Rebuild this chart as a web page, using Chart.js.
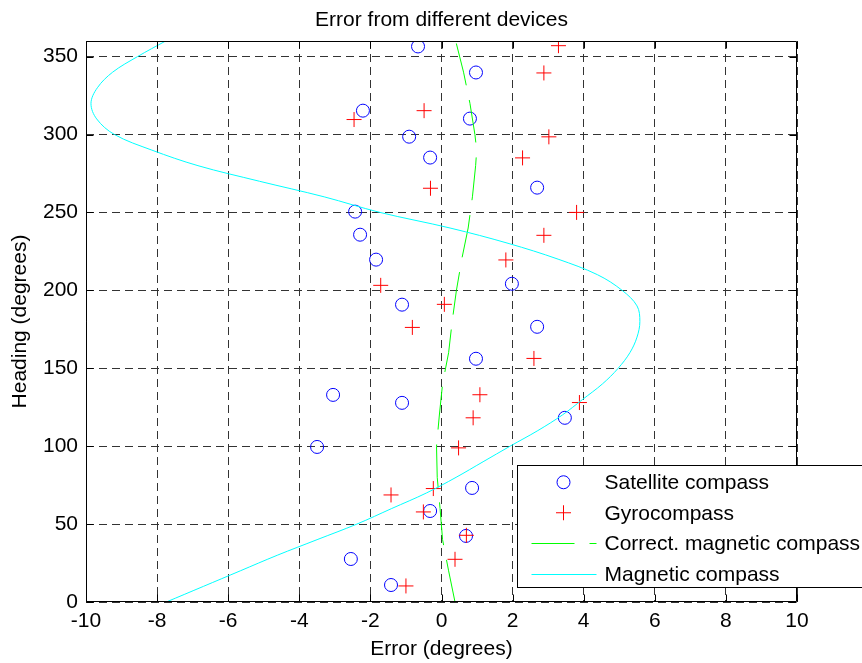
<!DOCTYPE html>
<html>
<head>
<meta charset="utf-8">
<script src="https://cdn.jsdelivr.net/npm/chart.js@4/dist/chart.umd.min.js"></script>
<style>
  html, body { margin: 0; padding: 0; background: #fff; }
  #wrap { width: 862px; height: 663px; position: relative; overflow: hidden; }
</style>
</head>
<body>
<div id="wrap"><canvas id="c" width="862" height="663"></canvas></div>
<script>
// ---------- Text ----------
const chartTitle = "Error from different devices";
const xAxisTitle = "Error (degrees)";
const yAxisTitle = "Heading (degrees)";
const seriesNames = ["Satellite compass", "Gyrocompass", "Correct. magnetic compass", "Magnetic compass"];

// ---------- Axis ranges / ticks ----------
const xMin = -10, xMax = 10, xStep = 2;
const yMin = 0, yMax = 360, yStep = 50;

// ---------- Data (heading in degrees, error in degrees) ----------
const satHeading = [356.5, 339.8, 315.3, 310.2, 298.6, 285.2, 265.9, 250.5, 235.7, 219.7, 204.2, 190.8, 176.6, 156.1, 132.9, 127.8, 118.2, 99.5, 73.2, 58.4, 42.4, 27.6, 10.9];
const satError   = [-0.66, 0.97, -2.21, 0.80, -0.91, -0.32, 2.69, -2.43, -2.29, -1.84, 1.98, -1.11, 2.69, 0.97, -3.05, -1.11, 3.47, -3.50, 0.86, -0.32, 0.69, -2.55, -1.42];

const gyroHeading = [357.0, 339.5, 315.3, 309.6, 298.5, 285.0, 265.5, 250.0, 235.3, 219.5, 203.2, 191.0, 176.2, 156.3, 133.0, 128.0, 118.2, 98.9, 72.8, 68.7, 57.8, 42.8, 27.4, 10.3];
const gyroError   = [3.29, 2.88, -0.49, -2.46, 3.02, 2.28, -0.31, 3.80, 2.88, 1.81, -1.71, 0.08, -0.82, 2.60, 1.08, 3.88, 0.89, 0.48, -0.23, -1.42, -0.51, 0.70, 0.38, -1.00];

const corrHeading = [0, 20, 40, 60, 80, 100, 120, 140, 160, 180, 200, 220, 240, 260, 280, 290, 300, 320, 340, 360];
const corrError   = [0.38, 0.20, 0.03, -0.04, -0.12, -0.14, -0.06, 0.03, 0.20, 0.30, 0.42, 0.57, 0.75, 0.87, 0.96, 0.99, 0.94, 0.80, 0.62, 0.40];

const magHeading = [0, 10, 20, 30, 40, 50, 60, 70, 80, 90, 100, 110, 120, 130, 140, 150, 160, 170, 180, 190, 200, 210, 220, 230, 240, 250, 260, 270, 280, 290, 300, 310, 320, 330, 340, 350, 360];
const magError   = [-7.74, -6.70, -5.66, -4.62, -3.50, -2.38, -1.40, -0.42, 0.41, 1.17, 1.93, 2.71, 3.40, 3.97, 4.53, 4.97, 5.30, 5.50, 5.58, 5.50, 5.08, 4.39, 3.28, 1.90, 0.24, -1.73, -3.30, -5.12, -6.85, -8.15, -9.20, -9.70, -9.86, -9.68, -9.25, -8.55, -7.76];

// ---------- Styling ----------
const FONT = "'Liberation Sans', Arial, Helvetica, sans-serif";
const FS = 21;
const toPts = (xs, ys) => xs.map((v, i) => ({ x: v, y: ys[i] }));

const frameAndTicks = {
  id: 'frameAndTicks',
  afterDatasetsDraw(chart) {
    const { ctx, chartArea: a, scales: { x, y } } = chart;
    const L = Math.round(a.left) + 0.5, R = Math.round(a.right) - 0.5;
    const T = Math.round(a.top) + 0.5, B = Math.round(a.bottom) - 0.5;
    const tl = 7;
    ctx.save();
    ctx.strokeStyle = '#000';
    ctx.lineWidth = 1;
    ctx.setLineDash([]);
    ctx.beginPath();
    ctx.rect(L, T, R - L, B - T);
    x.ticks.forEach(t => {
      const p = Math.round(x.getPixelForValue(t.value)) + 0.5;
      ctx.moveTo(p, B); ctx.lineTo(p, B - tl);
      ctx.moveTo(p, T); ctx.lineTo(p, T + tl);
    });
    y.ticks.forEach(t => {
      const p = Math.round(y.getPixelForValue(t.value)) + 0.5;
      ctx.moveTo(L, p); ctx.lineTo(L + tl, p);
      ctx.moveTo(R, p); ctx.lineTo(R - tl, p);
    });
    ctx.stroke();
    ctx.restore();
  }
};

const boxLegend = {
  id: 'boxLegend',
  afterDraw(chart) {
    const { ctx, chartArea: a } = chart;
    const left = Math.round(a.left + 431) + 0.5;
    const top = Math.round(a.top + 424) + 0.5;
    const bottom = Math.round(a.bottom - 15) + 0.5;
    const rowH = (bottom - top) / 4;
    const markX = left + 46, lineX0 = left + 14, lineX1 = left + 79, textX = left + 87;
    ctx.save();
    ctx.fillStyle = '#fff';
    ctx.fillRect(left, top, chart.width + 20 - left, bottom - top);
    ctx.strokeStyle = '#000';
    ctx.lineWidth = 1;
    ctx.strokeRect(left, top, chart.width + 20 - left, bottom - top);
    ctx.font = FS + 'px ' + FONT;
    ctx.textBaseline = 'middle';
    ctx.textAlign = 'left';
    chart.data.datasets.forEach((ds, i) => {
      const cy = top + rowH * (i + 0.5) + 1.5;
      ctx.strokeStyle = ds.borderColor;
      ctx.lineWidth = 1;
      if (ds.showLine) {
        ctx.setLineDash(ds.borderDash || []);
        ctx.beginPath();
        ctx.moveTo(lineX0, Math.round(cy) + 0.5);
        ctx.lineTo(lineX1, Math.round(cy) + 0.5);
        ctx.stroke();
        ctx.setLineDash([]);
      } else if (ds.pointStyle === 'circle') {
        ctx.beginPath();
        ctx.arc(markX, cy, ds.pointRadius, 0, Math.PI * 2);
        ctx.stroke();
      } else {
        const r = ds.pointRadius;
        ctx.beginPath();
        ctx.moveTo(markX - r, cy); ctx.lineTo(markX + r, cy);
        ctx.moveTo(markX, cy - r); ctx.lineTo(markX, cy + r);
        ctx.stroke();
      }
      ctx.fillStyle = '#000';
      ctx.fillText(ds.label, textX, cy + 1);
    });
    ctx.restore();
  }
};

const chart = new Chart(document.getElementById('c'), {
  type: 'scatter',
  data: {
    datasets: [
      { label: seriesNames[0], data: toPts(satError, satHeading), showLine: false,
        pointStyle: 'circle', pointRadius: 6.5, pointBorderWidth: 1,
        borderColor: '#0000ff', backgroundColor: 'rgba(0,0,0,0)', pointBackgroundColor: 'rgba(0,0,0,0)', order: 4 },
      { label: seriesNames[1], data: toPts(gyroError, gyroHeading), showLine: false,
        pointStyle: 'cross', pointRadius: 7.5, pointBorderWidth: 1,
        borderColor: '#ff0000', backgroundColor: '#ff0000', order: 3 },
      { label: seriesNames[2], data: toPts(corrError, corrHeading), showLine: true,
        borderColor: '#00ff00', borderWidth: 1, borderDash: [43, 15], pointRadius: 0,
        tension: 0, fill: false, order: 2 },
      { label: seriesNames[3], data: toPts(magError, magHeading), showLine: true,
        borderColor: '#00ffff', borderWidth: 1, pointRadius: 0, tension: 0.35,
        fill: false, order: 1 }
    ]
  },
  options: {
    responsive: false,
    devicePixelRatio: 1,
    animation: false,
    events: [],
    layout: { padding: { left: 0, right: 65, top: 0, bottom: 0 } },
    plugins: {
      legend: { display: false },
      tooltip: { enabled: false },
      title: {
        display: true, text: chartTitle, fullSize: false, color: '#000',
        font: { family: FONT, size: FS, weight: 'normal' },
        padding: { top: 8, bottom: 7.8 }
      }
    },
    scales: {
      x: {
        type: 'linear', position: 'bottom', min: xMin, max: xMax,
        ticks: { stepSize: xStep, color: '#000', padding: 6.4, font: { family: FONT, size: FS } },
        grid: { drawTicks: false, color: '#333', lineWidth: 1 },
        border: { display: false, dash: [8, 5] },
        title: { display: true, text: xAxisTitle, color: '#000', font: { family: FONT, size: FS }, padding: { top: 0, bottom: 1 } },
        afterFit(s) { s.height = 61; }
      },
      y: {
        type: 'linear', position: 'left', min: yMin, max: yMax,
        ticks: { stepSize: yStep, includeBounds: false, color: '#000', padding: 8, font: { family: FONT, size: FS } },
        grid: { drawTicks: false, color: '#333', lineWidth: 1 },
        border: { display: false, dash: [8, 5] },
        title: { display: true, text: yAxisTitle, color: '#000', font: { family: FONT, size: FS }, padding: { top: 7.5, bottom: 0 } },
        afterFit(s) { s.width = 86; }
      }
    }
  },
  plugins: [frameAndTicks, boxLegend]
});
</script>
</body>
</html>
